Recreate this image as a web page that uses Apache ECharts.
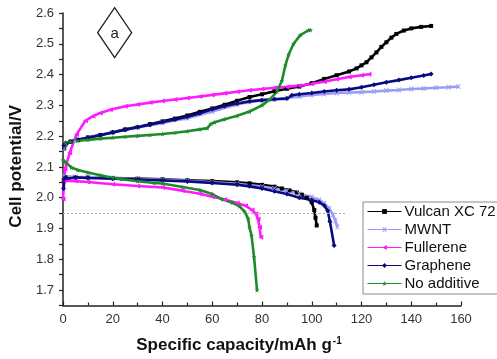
<!DOCTYPE html>
<html>
<head>
<meta charset="utf-8">
<script src="https://cdn.jsdelivr.net/npm/echarts@6/dist/echarts.min.js"></script>
<style>
  html, body { margin: 0; padding: 0; background: #fff; }
  #chart { width: 497px; height: 359px; }
</style>
</head>
<body>
<div id="chart"></div>
<script>
// Charge / discharge curves: [specific capacity (mAh/g), cell potential (V)]
const vulcanCharge = [[0.5,2.16],[1,2.172],[3,2.182],[6,2.188],[10,2.196],[15,2.204],[20,2.213],[25,2.222],[30,2.23],[35,2.239],[40,2.248],[45,2.257],[50,2.267],[55,2.279],[60,2.29],[65,2.302],[70,2.315],[75,2.327],[80,2.336],[85,2.346],[90,2.354],[95,2.361],[100,2.372],[105,2.386],[110,2.398],[115,2.41],[118,2.42],[120,2.43],[122,2.44],[124,2.456],[126,2.472],[128,2.49],[130,2.505],[132,2.52],[134,2.532],[137,2.543],[140,2.55],[144,2.555],[148,2.558]];
const vulcanDischarge = [[0.3,2.058],[1,2.066],[5,2.066],[10,2.066],[20,2.064],[30,2.062],[40,2.06],[50,2.057],[60,2.054],[70,2.05],[75,2.047],[80,2.042],[85,2.036],[88,2.03],[91,2.024],[94,2.017],[96,2.01],[98,2.0],[100,1.985],[101,1.96],[101.5,1.935],[102,1.91]];

const mwntCharge = [[0.5,2.16],[1,2.175],[5,2.186],[10,2.195],[20,2.212],[30,2.228],[40,2.243],[50,2.258],[60,2.28],[70,2.303],[75,2.311],[80,2.316],[85,2.32],[90,2.324],[95,2.329],[100,2.334],[105,2.337],[110,2.34],[115,2.342],[120,2.343],[125,2.345],[130,2.348],[135,2.35],[140,2.353],[145,2.355],[150,2.357],[155,2.359],[159,2.361]];
const mwntDischarge = [[0.5,2.07],[5,2.068],[10,2.067],[20,2.064],[30,2.061],[40,2.058],[50,2.055],[60,2.05],[70,2.045],[80,2.036],[85,2.03],[90,2.022],[95,2.013],[100,2.002],[103,1.993],[105,1.982],[107,1.965],[108.5,1.945],[109.5,1.925],[110.3,1.905]];

const fullereneCharge = [[0,1.996],[0.8,2.093],[2.7,2.146],[5.4,2.205],[9,2.25],[12,2.265],[15,2.275],[19,2.286],[25,2.297],[30,2.303],[35,2.309],[40,2.314],[45,2.319],[50,2.324],[55,2.329],[60,2.334],[65,2.339],[70,2.344],[75,2.349],[80,2.353],[85,2.357],[90,2.36],[95,2.364],[100,2.37],[105,2.377],[110,2.385],[115,2.392],[120,2.398],[123,2.401]];
const fullereneDischarge = [[0.5,2.055],[5,2.054],[10,2.051],[20,2.044],[30,2.038],[40,2.033],[48,2.023],[55,2.013],[60,2.003],[65,1.994],[70,1.983],[73.4,1.974],[76,1.96],[77.5,1.948],[78.4,1.931],[79,1.904],[79.5,1.872]];

const grapheneCharge = [[0.3,2.17],[1,2.178],[3,2.183],[6,2.188],[10,2.195],[15,2.203],[20,2.212],[25,2.221],[30,2.229],[35,2.237],[40,2.246],[45,2.254],[50,2.263],[55,2.274],[60,2.287],[65,2.298],[70,2.306],[75,2.313],[80,2.317],[85,2.32],[90,2.322],[92,2.333],[95,2.336],[100,2.34],[105,2.345],[110,2.349],[115,2.352],[120,2.359],[125,2.367],[130,2.375],[135,2.382],[140,2.39],[145,2.397],[148,2.402]];
const grapheneDischarge = [[0.2,2.03],[0.5,2.06],[1,2.066],[5,2.066],[10,2.064],[20,2.062],[30,2.059],[40,2.056],[50,2.053],[60,2.048],[70,2.042],[75,2.037],[80,2.03],[85,2.021],[90,2.012],[95,2.0],[100,1.993],[103,1.985],[105,1.975],[106.4,1.958],[107.3,1.923],[109,1.845]];

const noAdditiveCharge = [[1,2.178],[3,2.182],[6,2.185],[10,2.188],[15,2.192],[20,2.195],[25,2.198],[30,2.201],[35,2.204],[40,2.207],[45,2.211],[50,2.216],[55,2.222],[58,2.226],[59.5,2.24],[61,2.245],[65,2.255],[70,2.266],[75,2.28],[80,2.3],[83,2.318],[86,2.345],[88,2.38],[89.4,2.43],[90.7,2.465],[92.7,2.5],[95.4,2.528],[98.7,2.544],[99.5,2.545]];
const noAdditiveDischarge = [[0,2.122],[1,2.115],[3.4,2.098],[6,2.09],[10,2.082],[15,2.073],[20,2.065],[23.4,2.06],[30,2.054],[36.7,2.048],[40,2.046],[48,2.035],[55,2.025],[60,2.012],[64,1.995],[68,1.984],[71,1.972],[73,1.955],[74.4,1.932],[75,1.904],[75.8,1.877],[76.8,1.808],[78,1.70]];

const legendNames = ['Vulcan XC 72', 'MWNT', 'Fullerene', 'Graphene', 'No additive'];
const cutoffVoltage = 1.95;
const cutoffEnd = 114;

const xTicks = { min: 0, max: 160, step: 20 };
const yTicks = { min: 1.65, max: 2.6, step: 0.05 };

const styles = {
  'Vulcan XC 72': { color: '#000000', symbol: 'rect', size: 4 },
  'MWNT': { color: '#9a9cf4', symbol: 'path://M0,0 L2,0 L5,3 L8,0 L10,0 L6,5 L10,10 L8,10 L5,7 L2,10 L0,10 L4,5 Z', size: 5 },
  'Fullerene': { color: '#ff1aff', symbol: 'path://M0,5 L10,0 L10,10 Z', size: 5 },
  'Graphene': { color: '#0a0a80', symbol: 'diamond', size: 5 },
  'No additive': { color: '#1f8a2a', symbol: 'path://M5,0 L6.2,3.4 L10,3.6 L7,6 L8.1,10 L5,7.7 L1.9,10 L3,6 L0,3.6 L3.8,3.4 Z', size: 5 }
};

const curves = [
  ['Vulcan XC 72', vulcanDischarge, vulcanCharge],
  ['MWNT', mwntDischarge, mwntCharge],
  ['Fullerene', fullereneDischarge, fullereneCharge],
  ['Graphene', grapheneDischarge, grapheneCharge],
  ['No additive', noAdditiveDischarge, noAdditiveCharge]
];

const series = [];
curves.forEach(([name, dis, chg]) => {
  const st = styles[name];
  [dis, chg].forEach(data => {
    series.push({
      name: name,
      type: 'line',
      data: data,
      symbol: st.symbol,
      symbolSize: st.size,
      showAllSymbol: true,
      color: st.color,
      lineStyle: { color: st.color, width: 2.6 },
      itemStyle: { color: st.color },
      animation: false,
      z: 3
    });
  });
});

// dotted cut-off line
series.push({
  type: 'line',
  data: [],
  silent: true,
  markLine: {
    silent: true,
    symbol: ['none', 'none'],
    label: { show: false },
    lineStyle: { color: '#a8a8a8', type: [2, 2], width: 1 },
    data: [[{ coord: [0, cutoffVoltage] }, { coord: [cutoffEnd, cutoffVoltage] }]]
  },
  animation: false
});

const chart = echarts.init(document.getElementById('chart'), null, { renderer: 'canvas' });
chart.setOption({
  backgroundColor: '#ffffff',
  animation: false,
  textStyle: { fontFamily: 'Liberation Sans, Arial, sans-serif' },
  grid: { left: 63, right: 36, top: 13, bottom: 51.5 },
  legend: {
    data: legendNames,
    orient: 'vertical',
    left: 363,
    top: 202,
    itemWidth: 34,
    itemHeight: 6,
    itemGap: 3,
    padding: [2, 8, 3, 4],
    borderColor: '#8a8a8a',
    borderWidth: 1,
    backgroundColor: '#ffffff',
    lineStyle: { width: 1 },
    textStyle: { fontSize: 15, color: '#111', lineHeight: 14, padding: [0, 0, 0, -2] }
  },
  xAxis: {
    type: 'value',
    min: xTicks.min,
    max: xTicks.max,
    interval: xTicks.step,
    name: 'Specific capacity/mAh g{sup|-1}',
    nameLocation: 'middle',
    nameGap: 31,
    nameTextStyle: {
      fontSize: 17, fontWeight: 'bold', color: '#111', verticalAlign: 'top',
      padding: [0, 46, 0, 0],
      rich: { sup: { fontSize: 10, fontWeight: 'bold', color: '#111', verticalAlign: 'top', padding: [0, 0, 8, 1] } }
    },
    axisLine: { show: true, onZero: false, lineStyle: { color: '#222', width: 1.5 } },
    axisTick: { show: true, inside: true, length: 4, lineStyle: { color: '#222', width: 1.2 } },
    minorTick: { show: true, splitNumber: 2, length: 3, lineStyle: { color: '#222', width: 1.2 } },
    axisLabel: { fontSize: 13, color: '#333', margin: 7 },
    splitLine: { show: false }
  },
  yAxis: {
    type: 'value',
    min: yTicks.min,
    max: yTicks.max,
    interval: yTicks.step,
    name: 'Cell potential/V',
    nameLocation: 'middle',
    nameGap: 36,
    nameTextStyle: { fontSize: 17, fontWeight: 'bold', color: '#111', padding: [0, 14, 0, 0] },
    axisLine: { show: true, onZero: false, lineStyle: { color: '#222', width: 1.5 } },
    axisTick: { show: true, inside: false, length: 4, lineStyle: { color: '#222', width: 1.2 } },
    axisLabel: {
      fontSize: 13, color: '#333', margin: 9,
      formatter: v => (Math.round(v * 100) % 10 === 0 ? v.toFixed(1) : '')
    },
    splitLine: { show: false }
  },
  graphic: [
    {
      type: 'group',
      left: 97,
      top: 7,
      children: [
        { type: 'polygon', shape: { points: [[0, 25], [17, 0], [34, 25], [17, 50]] },
          style: { fill: '#fff', stroke: '#222', lineWidth: 1.3 } },
        { type: 'text', style: { text: 'a', x: 17, y: 26, fontSize: 15, fill: '#222',
          align: 'center', verticalAlign: 'middle', fontFamily: 'Liberation Sans, Arial, sans-serif' } }
      ]
    }
  ],
  series: series
});
</script>
</body>
</html>
